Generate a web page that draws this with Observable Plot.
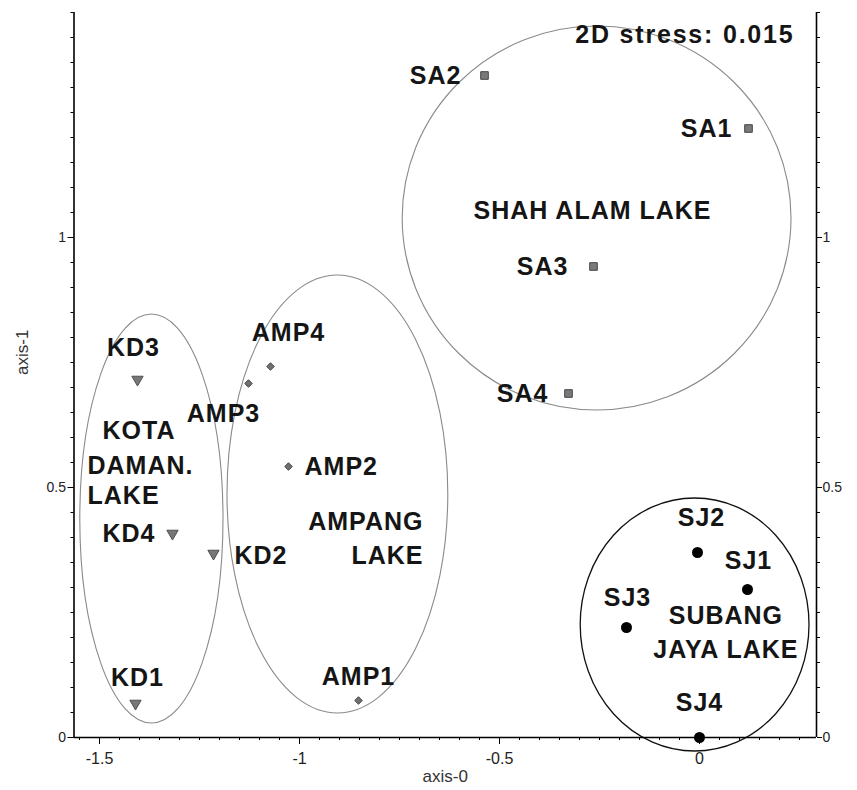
<!DOCTYPE html>
<html>
<head>
<meta charset="utf-8">
<script src="https://cdn.jsdelivr.net/npm/d3@7"></script>
<script src="https://cdn.jsdelivr.net/npm/@observablehq/plot@0.6"></script>
<style>
  html, body { margin: 0; padding: 0; background: #fff; }
</style>
</head>
<body>
<div id="chart"></div>
<script>
// ---- data (nMDS ordination) ----
const sites = ["SA1","SA2","SA3","SA4","SJ1","SJ2","SJ3","SJ4","KD1","KD2","KD3","KD4","AMP1","AMP2","AMP3","AMP4"];
const lakes = ["SA","SA","SA","SA","SJ","SJ","SJ","SJ","KD","KD","KD","KD","AMP","AMP","AMP","AMP"];
const axis0 = [0.1225, -0.5375, -0.265, -0.3275, 0.12, -0.005, -0.1825, 0.0, -1.41, -1.215, -1.405, -1.3175, -0.8525, -1.0275, -1.1275, -1.0725];
const axis1 = [1.218, 1.324, 0.942, 0.688, 0.296, 0.37, 0.22, 0.0, 0.068, 0.368, 0.716, 0.408, 0.074, 0.542, 0.708, 0.742];

// group labels (data coordinates)
const groupText = ["SHAH ALAM LAKE", "SUBANG\nJAYA LAKE", "AMPANG\nLAKE", "KOTA", "DAMAN.", "LAKE"];
const groupX    = [-0.2675, 0.066, -0.69, -1.4925, -1.53, -1.53];
const groupY    = [1.058, 0.215, 0.403, 0.618, 0.548, 0.488];
const groupAnchor = ["middle", "middle", "end", "start", "start", "start"];

// group envelopes (data coordinates)
const ellipseLake = ["KD", "AMP", "SA", "SJ"];
const ellipseCx = [-1.369, -0.904, -0.256, -0.011];
const ellipseCy = [0.437, 0.486, 1.038, 0.225];
const ellipseRx = [0.179, 0.276, 0.486, 0.286];
const ellipseRy = [0.409, 0.438, 0.384, 0.253];

// ticks
const xTicks = [-1.5, -1, -0.5, 0];
const yTicks = [0, 0.5, 1];
const xMinor = d3.range(-31, 6).map(i => +(i * 0.05).toFixed(2));
const yMinor = d3.range(0, 30).map(i => +(i * 0.05).toFixed(2));
const xDomain = [-1.56375, 0.2925];
const yDomain = [0, 1.45];
const stressText = "2D stress: 0.015";

const data = sites.map((s, i) => ({site: s, lake: lakes[i], x: axis0[i], y: axis1[i]}));

// label placement relative to each point: [anchor, dx, dy]
const labelPlace = {
  SA1: ["end", -16, 0], SA2: ["end", -23, 0], SA3: ["end", -25, 0], SA4: ["end", -20, 0],
  SJ1: ["middle", 1, -29], SJ2: ["middle", 4, -35], SJ3: ["middle", 1, -30], SJ4: ["middle", 0, -35],
  KD1: ["middle", 2, -26], KD2: ["start", 21, 2], KD3: ["middle", -4, -32], KD4: ["end", -17, 0],
  AMP1: ["middle", 0, -24], AMP2: ["start", 16, 0], AMP3: ["middle", -25, 30], AMP4: ["middle", 18, -34]
};

const FONT = "'Liberation Sans', Arial, sans-serif";
const labelStyle = {fontSize: 25, fontWeight: "bold", fill: "#151515", fontFamily: FONT};

function ellipseMark(index, scales) {
  const ns = "http://www.w3.org/2000/svg";
  const g = document.createElementNS(ns, "g");
  g.setAttribute("aria-label", "envelopes");
  ellipseLake.forEach((k, i) => {
    const e = document.createElementNS(ns, "ellipse");
    const cx = scales.x(ellipseCx[i]), cy = scales.y(ellipseCy[i]);
    e.setAttribute("cx", cx);
    e.setAttribute("cy", cy);
    e.setAttribute("rx", Math.abs(scales.x(ellipseCx[i] + ellipseRx[i]) - cx));
    e.setAttribute("ry", Math.abs(scales.y(ellipseCy[i] + ellipseRy[i]) - cy));
    e.setAttribute("fill", "none");
    e.setAttribute("stroke", k === "SJ" ? "#111" : "#8a8a8a");
    e.setAttribute("stroke-width", k === "SJ" ? 1.3 : 1.1);
    g.appendChild(e);
  });
  return g;
}

const siteLabels = data.map(d => {
  const [anchor, dx, dy] = labelPlace[d.site];
  return Plot.text([d], {x: "x", y: "y", text: "site", textAnchor: anchor, dx, dy, ...labelStyle});
});

const groupData = groupText.map((t, i) => ({t, x: groupX[i], y: groupY[i], a: groupAnchor[i]}));
const groupLabels = ["middle", "start", "end"].map(a =>
  Plot.text(groupData.filter(d => d.a === a), {x: "x", y: "y", text: "t", textAnchor: a, lineHeight: 1.36, ...labelStyle})
);

// tick labels drawn as text marks positioned through the scales
const xTickData = xTicks.map(v => ({v, s: String(v)}));
const yTickData = yTicks.map(v => ({v, s: String(v)}));

const chart = Plot.plot({
  width: 857,
  height: 790,
  marginLeft: 73.5,
  marginRight: 41,
  marginTop: 12,
  marginBottom: 53,
  x: {domain: xDomain},
  y: {domain: yDomain},
  style: {fontFamily: FONT, background: "#fff"},
  marks: [
    ellipseMark,
    // axis lines
    Plot.ruleY([0], {x1: xDomain[0], x2: xDomain[1], stroke: "#000", strokeWidth: 1.6}),
    Plot.ruleX([xDomain[0]], {y1: yDomain[0], y2: yDomain[1], stroke: "#000", strokeWidth: 1.6}),
    Plot.ruleX([xDomain[1]], {y1: yDomain[0], y2: yDomain[1], stroke: "#000", strokeWidth: 1.6}),
    // minor ticks
    Plot.axisX({ticks: xMinor, tickSize: 3, tickFormat: () => "", label: null, stroke: "#000"}),
    Plot.axisY({anchor: "left", ticks: yMinor, tickSize: 3, tickFormat: () => "", label: null, stroke: "#000"}),
    Plot.axisY({anchor: "right", ticks: yMinor, tickSize: 3, tickFormat: () => "", label: null, stroke: "#000"}),
    // major ticks
    Plot.axisX({ticks: xTicks, tickSize: 7, tickFormat: () => "", label: null, stroke: "#000"}),
    Plot.axisY({anchor: "left", ticks: yTicks, tickSize: 6, tickFormat: () => "", label: null, stroke: "#000"}),
    Plot.axisY({anchor: "right", ticks: yTicks, tickSize: 5, tickFormat: () => "", label: null, stroke: "#000"}),
    // tick labels
    Plot.text(xTickData, {x: "v", frameAnchor: "bottom", text: "s", lineAnchor: "top", dy: 15, fontSize: 16, fill: "#222", fontFamily: FONT}),
    Plot.text(yTickData, {y: "v", frameAnchor: "left", text: "s", textAnchor: "end", dx: -8, fontSize: 14, fill: "#222", fontFamily: FONT}),
    Plot.text(yTickData, {y: "v", frameAnchor: "right", text: "s", textAnchor: "start", dx: 6, fontSize: 14, fill: "#222", fontFamily: FONT}),
    // axis titles
    Plot.text(["axis-0"], {frameAnchor: "bottom", lineAnchor: "middle", dy: 39, fontSize: 17, fill: "#333", fontFamily: FONT}),
    Plot.text(["axis-1"], {frameAnchor: "left", lineAnchor: "middle", rotate: -90, dx: -51.5, fontSize: 17, fill: "#333", fontFamily: FONT}),
    // points
    Plot.dot(data.filter(d => d.lake === "SA"), {x: "x", y: "y", symbol: "square", r: 4.3, fill: "#7a7a7a", stroke: "#454545", strokeWidth: 1}),
    Plot.dot(data.filter(d => d.lake === "KD"), {x: "x", y: "y", symbol: "triangle", rotate: 180, r: 4.2, fill: "#777", stroke: "#505050", strokeWidth: 1}),
    Plot.dot(data.filter(d => d.lake === "AMP"), {x: "x", y: "y", symbol: "diamond2", r: 3.4, fill: "#707070", stroke: "#444", strokeWidth: 1}),
    Plot.dot(data.filter(d => d.lake === "SJ"), {x: "x", y: "y", symbol: "circle", r: 5.5, fill: "#000", stroke: "none"}),
    // labels
    ...siteLabels,
    ...groupLabels,
    Plot.text([stressText], {frameAnchor: "top-right", textAnchor: "end", lineAnchor: "top", dx: -22, dy: 13, ...labelStyle})
  ]
});

// letter spacing for the bold annotation text
chart.querySelectorAll("text").forEach(t => {
  if (t.closest('[font-weight="bold"]')) {
    t.style.letterSpacing = (t.textContent === stressText) ? "1.8px" : "1px";
  }
});

document.getElementById("chart").appendChild(chart);
</script>
</body>
</html>
